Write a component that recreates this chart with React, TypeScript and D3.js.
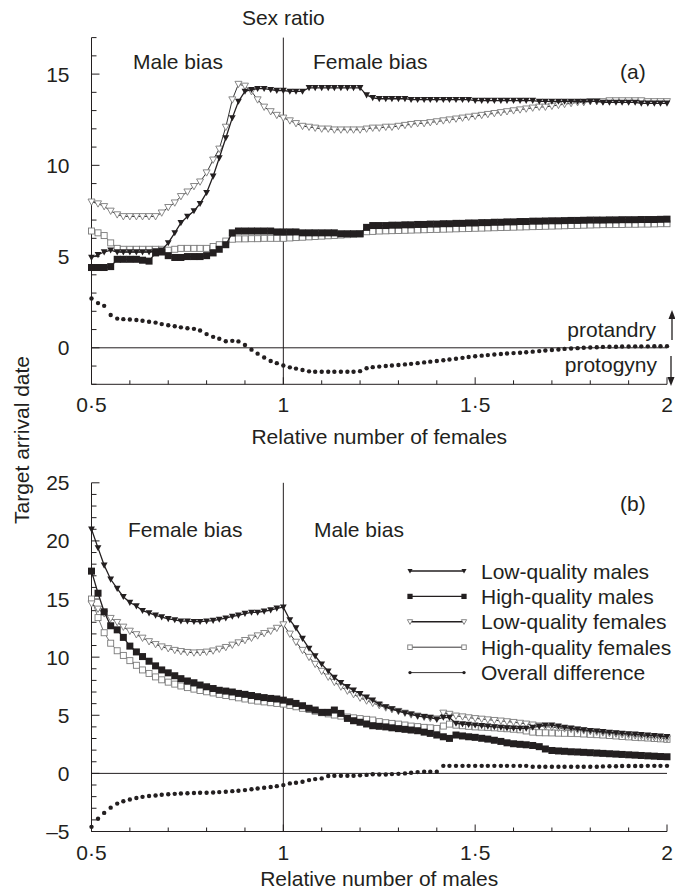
import React from "react";
import * as d3 from "d3";

// Relative number of females (panel a) / males (panel b)
const RATIO = [
  0.5, 0.517, 0.533, 0.55, 0.567, 0.583, 0.6, 0.617, 0.633, 0.65,
  0.667, 0.683, 0.7, 0.717, 0.733, 0.75, 0.767, 0.783, 0.8, 0.817,
  0.833, 0.85, 0.867, 0.883, 0.9, 0.917, 0.933, 0.95, 0.967, 0.983,
  1.0, 1.017, 1.033, 1.05, 1.067, 1.083, 1.1, 1.117, 1.133, 1.15,
  1.167, 1.183, 1.2, 1.217, 1.233, 1.25, 1.267, 1.283, 1.3, 1.317,
  1.333, 1.35, 1.367, 1.383, 1.4, 1.417, 1.433, 1.45, 1.467, 1.483,
  1.5, 1.517, 1.533, 1.55, 1.567, 1.583, 1.6, 1.617, 1.633, 1.65,
  1.667, 1.683, 1.7, 1.717, 1.733, 1.75, 1.767, 1.783, 1.8, 1.817,
  1.833, 1.85, 1.867, 1.883, 1.9, 1.917, 1.933, 1.95, 1.967, 1.983,
  2.0,
];

// ---- Panel (a) ----
const LQM_A = [
  4.95, 5.1, 5.25, 5.35, 5.25, 5.25, 5.25, 5.25, 5.25, 5.25,
  5.3, 5.35, 5.75, 6.3, 6.85, 7.2, 7.5, 7.9, 8.5, 9.4,
  10.4, 11.5, 12.6, 13.5, 14.05, 14.15, 14.2, 14.2, 14.15, 14.1,
  14.1, 14.05, 14.05, 14.05, 14.25, 14.25, 14.25, 14.25, 14.25, 14.25,
  14.25, 14.25, 14.25, 13.85, 13.7, 13.65, 13.65, 13.65, 13.65, 13.65,
  13.6, 13.6, 13.6, 13.6, 13.6, 13.6, 13.6, 13.6, 13.6, 13.6,
  13.55, 13.55, 13.55, 13.55, 13.55, 13.55, 13.55, 13.55, 13.55, 13.55,
  13.5, 13.5, 13.5, 13.5, 13.5, 13.5, 13.5, 13.5, 13.5, 13.5,
  13.45, 13.45, 13.45, 13.45, 13.45, 13.45, 13.4, 13.4, 13.4, 13.4,
  13.4,
];
const HQM_A = [
  4.4, 4.4, 4.4, 4.45, 4.85, 4.85, 4.85, 4.85, 4.8, 4.75,
  5.2, 5.25, 5.05, 4.95, 4.95, 5.0, 5.0, 5.0, 5.05, 5.2,
  5.4, 5.65, 6.3, 6.4, 6.4, 6.4, 6.4, 6.4, 6.4, 6.35,
  6.35, 6.35, 6.35, 6.3, 6.3, 6.3, 6.3, 6.3, 6.3, 6.25,
  6.25, 6.25, 6.25, 6.6, 6.7, 6.7, 6.7, 6.72, 6.72, 6.74,
  6.74, 6.76, 6.76, 6.78, 6.78, 6.8, 6.8, 6.82, 6.82, 6.84,
  6.84, 6.86, 6.86, 6.88, 6.88, 6.9, 6.9, 6.92, 6.92, 6.94,
  6.94, 6.95, 6.96, 6.96, 6.97, 6.98, 6.98, 6.99, 7.0, 7.0,
  7.0, 7.01, 7.01, 7.02, 7.02, 7.02, 7.03, 7.03, 7.03, 7.04,
  7.05,
];
const LQF_A = [
  8.0, 7.9, 7.75, 7.5, 7.3, 7.2, 7.2, 7.2, 7.2, 7.2,
  7.2, 7.4, 7.7, 7.95, 8.3, 8.55, 8.85, 9.1, 9.6, 10.3,
  10.9, 12.1, 13.6, 14.45, 14.35, 14.05, 13.6, 13.2, 12.95, 12.75,
  12.6, 12.45, 12.3, 12.15, 12.1, 12.05, 12.0, 12.0, 11.95, 11.95,
  11.95, 11.95, 11.95, 12.0, 12.05, 12.05, 12.1, 12.1, 12.15, 12.2,
  12.25, 12.3, 12.3, 12.35, 12.4, 12.45, 12.5, 12.55, 12.6, 12.65,
  12.7, 12.75, 12.8, 12.85, 12.9, 12.95, 13.0, 13.05, 13.1, 13.15,
  13.2, 13.2, 13.25, 13.3, 13.35, 13.4, 13.45, 13.45, 13.5, 13.5,
  13.5, 13.55, 13.55, 13.55, 13.55, 13.55, 13.55, 13.5, 13.5, 13.5,
  13.5,
];
const HQF_A = [
  6.4, 6.3, 6.15, 5.75, 5.45, 5.4, 5.4, 5.4, 5.4, 5.4,
  5.4, 5.4, 5.35, 5.4, 5.45, 5.45, 5.45, 5.45, 5.45, 5.55,
  5.65, 5.85, 5.95, 5.97, 5.97, 5.98, 5.98, 6.0, 6.0, 6.0,
  6.0, 6.02, 6.04, 6.06, 6.08, 6.1, 6.12, 6.14, 6.16, 6.18,
  6.2, 6.22, 6.24, 6.36, 6.38, 6.4, 6.41, 6.42, 6.43, 6.44,
  6.45, 6.46, 6.47, 6.48, 6.49, 6.5, 6.51, 6.52, 6.53, 6.54,
  6.55, 6.56, 6.57, 6.58, 6.59, 6.6, 6.61, 6.62, 6.63, 6.64,
  6.65, 6.66, 6.67, 6.68, 6.69, 6.7, 6.71, 6.72, 6.73, 6.74,
  6.75, 6.75, 6.76, 6.76, 6.77, 6.77, 6.78, 6.78, 6.79, 6.8,
  6.8,
];
const DIFF_A = [
  2.7, 2.45, 2.3, 1.8, 1.6, 1.57, 1.55, 1.52, 1.48, 1.43,
  1.38, 1.3, 1.24, 1.18, 1.12, 1.07, 1.04, 0.95, 0.75, 0.6,
  0.5, 0.36, 0.38, 0.35, 0.15, -0.1, -0.32, -0.53, -0.72, -0.84,
  -0.97, -1.07, -1.14, -1.22, -1.29, -1.31, -1.31, -1.31, -1.31, -1.31,
  -1.31, -1.31, -1.28, -1.12, -1.06, -1.03, -1.0, -0.97, -0.94, -0.91,
  -0.88, -0.84, -0.8, -0.76, -0.72, -0.68, -0.64, -0.6, -0.55, -0.5,
  -0.46, -0.43, -0.4, -0.37, -0.34, -0.31, -0.29, -0.27, -0.24, -0.21,
  -0.18, -0.15, -0.12, -0.09, -0.06, -0.04, -0.02, 0.0, 0.02, 0.03,
  0.05, 0.06, 0.06, 0.07, 0.07, 0.08, 0.08, 0.08, 0.09, 0.09,
  0.09,
];

// ---- Panel (b) ----
const LQM_B = [
  21.0, 19.4, 17.9, 16.7, 15.9, 15.2, 14.7, 14.4, 14.0, 13.8,
  13.6, 13.45, 13.3, 13.2, 13.1, 13.1, 13.05, 13.05, 13.1, 13.15,
  13.25, 13.35, 13.5, 13.6, 13.75, 13.85, 13.85, 13.95, 14.05, 14.2,
  14.3, 13.2, 12.5, 11.6, 10.75, 10.1, 9.4, 8.8, 8.25, 7.8,
  7.45, 7.15, 6.85, 6.55, 6.3, 5.95, 5.72, 5.55, 5.35, 5.2,
  5.1, 4.93, 4.87, 4.82, 4.65, 4.82, 4.8, 4.3, 4.25, 4.2,
  4.15, 4.1, 4.05, 4.0, 3.95, 3.9, 3.88, 3.87, 3.87, 3.95,
  4.05, 4.15, 4.15, 4.05, 3.95, 3.88, 3.8, 3.74, 3.68, 3.63,
  3.58, 3.53, 3.48, 3.44, 3.4, 3.36, 3.32, 3.28, 3.24, 3.2,
  3.15,
];
const HQM_B = [
  17.4, 15.5, 13.9, 12.7, 12.35, 11.7, 10.95, 10.45, 10.05, 9.65,
  9.25, 8.9, 8.65, 8.4, 8.15, 7.95, 7.8, 7.6, 7.45, 7.3,
  7.15, 7.08, 7.0, 6.88, 6.8, 6.7, 6.6, 6.52, 6.45, 6.4,
  6.3, 6.16, 6.02, 5.82, 5.6, 5.45, 5.25, 5.25, 5.45, 5.16,
  4.73, 4.53, 4.4, 4.25, 4.1, 4.05, 4.0, 3.92, 3.85, 3.79,
  3.73, 3.67, 3.55, 3.44, 3.3, 3.15, 3.01, 3.3, 3.22, 3.15,
  3.1, 3.02, 2.95, 2.85, 2.75, 2.63, 2.55, 2.5, 2.46, 2.4,
  2.3, 2.1, 1.97, 1.93, 1.9, 1.86, 1.84, 1.81, 1.78, 1.75,
  1.72, 1.69, 1.66, 1.63, 1.6, 1.57, 1.54, 1.51, 1.48, 1.45,
  1.43,
];
const LQF_B = [
  14.6, 14.15, 13.75, 13.35, 13.0, 12.6, 12.25, 11.95, 11.65, 11.35,
  11.1, 10.9, 10.75, 10.6, 10.5, 10.42, 10.38, 10.4, 10.45, 10.55,
  10.7, 10.85, 11.05, 11.25, 11.45, 11.65, 11.85, 12.05, 12.25, 12.5,
  12.8, 12.0, 11.3, 10.6, 10.0, 9.4, 8.8, 8.3, 7.85, 7.45,
  7.1, 6.8, 6.5, 6.25, 6.05, 5.85, 5.65, 5.5, 5.35, 5.2,
  5.05, 4.95, 4.85, 4.75, 4.7, 5.2, 5.1, 4.95, 4.88, 4.8,
  4.73, 4.68, 4.62, 4.57, 4.52, 4.46, 4.4, 4.33, 4.26, 4.18,
  4.1, 4.03, 3.97, 3.91, 3.85, 3.8, 3.74, 3.68, 3.62, 3.56,
  3.5, 3.45, 3.4, 3.35, 3.3, 3.25, 3.2, 3.15, 3.1, 3.05,
  3.0,
];
const HQF_B = [
  15.0, 13.4, 12.1, 11.2, 10.55, 10.15, 9.7, 9.3, 8.9, 8.6,
  8.3, 8.05, 7.85, 7.68, 7.52, 7.38, 7.25, 7.13, 7.02, 6.92,
  6.8, 6.7, 6.6, 6.5, 6.4, 6.3, 6.22, 6.15, 6.08, 6.02,
  5.96, 5.85, 5.73, 5.6, 5.5, 5.35, 5.22, 5.12, 5.02, 4.93,
  4.85, 4.78, 4.71, 4.65, 4.59, 4.45, 4.36, 4.3, 4.24, 4.16,
  4.07, 4.02, 3.96, 3.92, 3.87, 4.07, 4.24, 4.15, 4.1, 4.05,
  4.0, 3.98, 3.96, 3.92, 3.88, 3.84, 3.8, 3.75, 3.65, 3.55,
  3.5, 3.49, 3.48, 3.46, 3.45, 3.44, 3.42, 3.39, 3.36, 3.33,
  3.3, 3.26, 3.22, 3.18, 3.14, 3.1, 3.07, 3.04, 3.0, 2.97,
  2.93,
];
const DIFF_B = [
  -4.6, -3.9, -3.4, -2.95, -2.6, -2.4, -2.25, -2.12, -2.02, -1.95,
  -1.9, -1.84, -1.8, -1.76, -1.73, -1.71, -1.69, -1.67, -1.66, -1.64,
  -1.61, -1.58, -1.53, -1.49, -1.44, -1.37, -1.3, -1.24, -1.17, -1.1,
  -1.01, -0.86, -0.81, -0.72, -0.58, -0.49, -0.43, -0.23, -0.21, -0.21,
  -0.21, -0.2, -0.17, -0.13, -0.08, -0.1, -0.09, -0.06, -0.04, 0.0,
  0.05, 0.11, 0.14, 0.14, 0.14, 0.65, 0.65, 0.65, 0.65, 0.65,
  0.65, 0.65, 0.65, 0.65, 0.65, 0.65, 0.65, 0.65, 0.65, 0.57,
  0.57, 0.57, 0.57, 0.57, 0.57, 0.57, 0.57, 0.57, 0.57, 0.57,
  0.6, 0.62, 0.62, 0.63, 0.63, 0.64, 0.64, 0.65, 0.65, 0.65,
  0.65,
];

const X_TICK_VALUES = [0.5, 1, 1.5, 2];
const X_TICK_LABELS = ["0·5", "1", "1·5", "2"];
const YA_TICK_VALUES = [0, 5, 10, 15];
const YA_TICK_LABELS = ["0", "5", "10", "15"];
const YB_TICK_VALUES = [-5, 0, 5, 10, 15, 20, 25];
const YB_TICK_LABELS = ["–5", "0", "5", "10", "15", "20", "25"];

const LEGEND_LABELS = [
  "Low-quality males",
  "High-quality males",
  "Low-quality females",
  "High-quality females",
  "Overall difference",
];

const W = 675;
const H = 892;
const FONT = '"Liberation Sans", Arial, Helvetica, sans-serif';
const INK = "#231f20";
const GREY = "#7a7a7a";

type Kind = "lqm" | "hqm" | "lqf" | "hqf" | "diff";

function Marker({ kind, x, y, s = 1 }: { kind: Kind; x: number; y: number; s?: number }) {
  if (kind === "lqm") {
    const r = 3.4 * s;
    return <path d={`M${x - r},${y - r * 0.8}L${x + r},${y - r * 0.8}L${x},${y + r * 1.0}Z`} fill={INK} />;
  }
  if (kind === "lqf") {
    const r = 3.5 * s;
    return (
      <path
        d={`M${x - r},${y - r * 0.8}L${x + r},${y - r * 0.8}L${x},${y + r * 1.0}Z`}
        fill="#fff"
        stroke={GREY}
        strokeWidth={0.9}
      />
    );
  }
  if (kind === "hqm") {
    const h = 3.5 * s;
    return <rect x={x - h} y={y - h} width={2 * h} height={2 * h} fill={INK} />;
  }
  if (kind === "hqf") {
    const h = 3.0 * s;
    return <rect x={x - h} y={y - h} width={2 * h} height={2 * h} fill="#fff" stroke={GREY} strokeWidth={0.9} />;
  }
  return <circle cx={x} cy={y} r={2.2 * s} fill={INK} />;
}

const LINE_STYLE: Record<Kind, { stroke: string; width: number }> = {
  lqm: { stroke: INK, width: 1.3 },
  hqm: { stroke: INK, width: 1.3 },
  lqf: { stroke: "#333", width: 1.0 },
  hqf: { stroke: "#555", width: 0.8 },
  diff: { stroke: "none", width: 0 },
};

const xS = d3.scaleLinear().domain([0.5, 2]).range([91.5, 667]);
const yA = d3.scaleLinear().domain([-2, 17]).range([384.3, 37.6]);
const yB = d3.scaleLinear().domain([-5, 25]).range([831.5, 482.8]);

function Series({ kind, values, y }: { kind: Kind; values: number[]; y: d3.ScaleLinear<number, number> }) {
  const pts: [number, number][] = values.map((v, i) => [xS(RATIO[i]), y(v)]);
  const line = d3.line()(pts) || "";
  const st = LINE_STYLE[kind];
  return (
    <g>
      {st.stroke !== "none" && <path d={line} fill="none" stroke={st.stroke} strokeWidth={st.width} />}
      {pts.map((p, i) => (
        <Marker key={i} kind={kind} x={p[0]} y={p[1]} />
      ))}
    </g>
  );
}

function Axes({ y, yMin, yMax, tv, tl }: {
  y: d3.ScaleLinear<number, number>; yMin: number; yMax: number; tv: number[]; tl: string[];
}) {
  const x0 = xS(0.5);
  const x1 = xS(2);
  const yb = y(yMin);
  const yt = y(yMax);
  const minorX = d3.range(5, 21).map((k) => k / 10);
  const minorY = d3.range(yMin, yMax + 1);
  return (
    <g stroke={INK} strokeWidth={1}>
      <line x1={x0} x2={x0} y1={yt} y2={yb} />
      <line x1={x0} x2={x1} y1={yb} y2={yb} />
      {minorX.map((v) => {
        const major = Math.abs(v * 2 - Math.round(v * 2)) < 1e-6;
        return <line key={"x" + v} x1={xS(v)} x2={xS(v)} y1={yb} y2={yb - (major ? 7 : 4)} />;
      })}
      {minorY.map((v) => {
        const major = v % 5 === 0;
        return <line key={"y" + v} x1={x0} x2={x0 + (major ? 8 : 5)} y1={y(v)} y2={y(v)} />;
      })}
      {/* zero line and sex-ratio line */}
      <line x1={x0} x2={x1} y1={y(0)} y2={y(0)} />
      <line x1={xS(1)} x2={xS(1)} y1={yt} y2={yb} />
      <g stroke="none" fill={INK} fontFamily={FONT} fontSize={21}>
        {X_TICK_VALUES.map((v, i) => (
          <text key={"xl" + v} x={xS(v)} y={yb + 28} textAnchor="middle">
            {X_TICK_LABELS[i]}
          </text>
        ))}
        {tv.map((v, i) => (
          <text key={"yl" + v} x={x0 - 22} y={y(v)} textAnchor="end" dominantBaseline="central">
            {tl[i]}
          </text>
        ))}
      </g>
    </g>
  );
}

const ORDER: Kind[] = ["hqf", "lqf", "hqm", "lqm", "diff"];

export default function App() {
  const dataA: Record<Kind, number[]> = { lqm: LQM_A, hqm: HQM_A, lqf: LQF_A, hqf: HQF_A, diff: DIFF_A };
  const dataB: Record<Kind, number[]> = { lqm: LQM_B, hqm: HQM_B, lqf: LQF_B, hqf: HQF_B, diff: DIFF_B };
  const legendKinds: Kind[] = ["lqm", "hqm", "lqf", "hqf", "diff"];
  const legX0 = 410;
  const legX1 = 464;
  const legY0 = 571;
  const legDy = 25.4;
  return (
    <svg
      width={W}
      height={H}
      viewBox={`0 0 ${W} ${H}`}
      style={{ position: "absolute", left: 0, top: 0, background: "#fff" }}
    >
      <rect width={W} height={H} fill="#fff" />
      {/* Panel a */}
      <Axes y={yA} yMin={-2} yMax={17} tv={YA_TICK_VALUES} tl={YA_TICK_LABELS} />
      {ORDER.map((k) => (
        <Series key={"a" + k} kind={k} values={dataA[k]} y={yA} />
      ))}
      <g fill={INK} fontFamily={FONT} fontSize={21}>
        <text x={xS(1)} y={25} textAnchor="middle">Sex ratio</text>
        <text x={133} y={69}>Male bias</text>
        <text x={313} y={69}>Female bias</text>
        <text x={620} y={79}>(a)</text>
        <text x={656} y={337} textAnchor="end">protandry</text>
        <text x={657} y={372} textAnchor="end">protogyny</text>
        <text x={xS(1.25)} y={444} textAnchor="middle">Relative number of females</text>
      </g>
      {/* protandry / protogyny arrows */}
      <g stroke={INK} strokeWidth={1.3} fill={INK}>
        <line x1={672} x2={672} y1={340} y2={316} />
        <path d="M668.5,319L672,310L675.5,319Z" stroke="none" />
        <line x1={671} x2={671} y1={356} y2={380} />
        <path d="M667.5,377L671,386L674.5,377Z" stroke="none" />
      </g>

      {/* Panel b */}
      <Axes y={yB} yMin={-5} yMax={25} tv={YB_TICK_VALUES} tl={YB_TICK_LABELS} />
      {ORDER.map((k) => (
        <Series key={"b" + k} kind={k} values={dataB[k]} y={yB} />
      ))}
      <g fill={INK} fontFamily={FONT} fontSize={21}>
        <text x={128} y={537}>Female bias</text>
        <text x={314} y={537}>Male bias</text>
        <text x={620} y={511}>(b)</text>
        <text x={xS(1.25)} y={886} textAnchor="middle">Relative number of males</text>
      </g>

      {/* Legend */}
      {legendKinds.map((k, i) => {
        const yy = legY0 + i * legDy;
        return (
          <g key={"leg" + k}>
            <line
              x1={legX0}
              x2={legX1}
              y1={yy}
              y2={yy}
              stroke={INK}
              strokeWidth={k === "hqf" || k === "diff" ? 0.9 : 1.4}
            />
            <Marker kind={k} x={legX0} y={yy} s={0.75} />
            <Marker kind={k} x={legX1} y={yy} s={0.75} />
            <text x={481} y={yy} dominantBaseline="central" fill={INK} fontFamily={FONT} fontSize={21}>
              {LEGEND_LABELS[i]}
            </text>
          </g>
        );
      })}

      {/* Shared y-axis title */}
      <text
        transform={`translate(29,440) rotate(-90)`}
        textAnchor="middle"
        fill={INK}
        fontFamily={FONT}
        fontSize={21}
      >
        Target arrival date
      </text>
    </svg>
  );
}
